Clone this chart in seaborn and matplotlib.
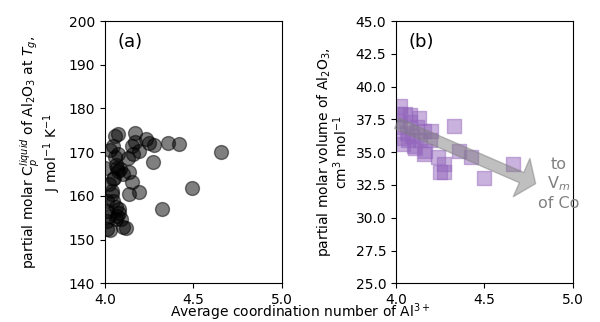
import numpy as np
import pandas as pd
import matplotlib
matplotlib.use("Agg")
import matplotlib.pyplot as plt
import seaborn as sns

# panel (a): heat capacity vs Al coordination
cn_cp = [4.076, 4.057, 4.17, 4.047, 4.152, 4.17, 4.23, 4.247, 4.28, 4.356, 4.42,
         4.657, 4.19, 4.16, 4.076, 4.057, 4.27, 4.07, 4.085, 4.10, 4.137, 4.05,
         4.15, 4.047, 4.02, 4.038, 4.137, 4.19, 4.495, 4.04, 4.013, 4.047, 4.06,
         4.08, 4.324, 4.013, 4.023, 4.07, 4.06, 4.09, 4.013, 4.1, 4.118, 4.028,
         4.013, 4.0, 4.065, 4.075, 4.08, 4.03, 4.13]
cp_al2o3 = [174.1, 173.7, 174.5, 171.5, 171.5, 172.3, 173.0, 172.2, 171.6, 172.0, 171.8,
            170.0, 170.3, 169.6, 169.6, 168.8, 167.7, 166.5, 166.1, 165.0, 165.4, 164.2,
            163.1, 163.9, 162.7, 161.2, 160.4, 160.8, 161.8, 160.4, 158.9, 158.9, 157.4,
            157.0, 157.0, 156.6, 155.5, 155.5, 154.7, 154.7, 154.3, 152.8, 152.7, 152.1,
            152.4, 166.5, 167.0, 165.8, 156.2, 170.5, 168.6]

# panel (b): partial molar volume vs Al coordination
cn_v = [4.023, 4.05, 4.08, 4.13, 4.33, 4.2, 4.156, 4.02, 4.04, 4.07, 4.137,
        4.194, 4.04, 4.1, 4.156, 4.166, 4.24, 4.27, 4.25, 4.27, 4.356, 4.423,
        4.118, 4.08, 4.023, 4.66, 4.5, 4.01, 4.06, 4.09, 4.11]
v_al2o3 = [38.5, 37.9, 37.8, 37.6, 37.0, 36.6, 36.6, 36.9, 36.1, 35.9, 35.9,
           35.9, 35.6, 35.5, 34.9, 35.1, 34.6, 34.1, 33.5, 33.5, 35.1, 34.6,
           36.9, 37.3, 37.9, 34.1, 33.0, 37.4, 36.5, 36.2, 35.3]

df_a = pd.DataFrame(dict(cn=cn_cp, cp=cp_al2o3))
df_b = pd.DataFrame(dict(cn=cn_v, v=v_al2o3))

fig = plt.figure(figsize=(6.0, 3.22), dpi=100)
ax1 = fig.add_axes([0.175, 0.120, 0.2945, 0.8146])
ax2 = fig.add_axes([0.660, 0.120, 0.2945, 0.8146])

# left panel
sns.scatterplot(data=df_a, x="cn", y="cp", ax=ax1, marker="o", s=100,
                color="k", alpha=0.5, edgecolor="k", linewidth=1)
ax1.set_xlim(4.0, 5.0)
ax1.set_ylim(140, 200)
ax1.set_xticks([4.0, 4.5, 5.0])
ax1.set_xlabel("")
ax1.set_ylabel("partial molar C$_p^{liquid}$ of Al$_2$O$_3$ at $T_g$,\nJ mol$^{-1}$ K$^{-1}$",
               linespacing=0.95)
ax1.text(0.07, 0.955, "(a)", transform=ax1.transAxes, fontsize=13, va="top")

# right panel
sns.scatterplot(data=df_b, x="cn", y="v", ax=ax2, marker="s", s=100,
                color="C4", alpha=0.5, edgecolor="C4", linewidth=1)
ax2.set_xlim(4.0, 5.0)
ax2.set_ylim(25, 45)
ax2.set_xticks([4.0, 4.5, 5.0])
ax2.set_xlabel("")
ax2.set_ylabel("partial molar volume of Al$_2$O$_3$,\ncm$^3$ mol$^{-1}$", linespacing=0.9)
ax2.text(0.07, 0.955, "(b)", transform=ax2.transAxes, fontsize=13, va="top")

# arrow pointing towards the molar volume of corundum
ax2.annotate("", xy=(4.79, 32.6), xytext=(4.005, 37.2),
             arrowprops=dict(arrowstyle="simple,head_length=1.1,head_width=3.0,tail_width=0.8",
                             color="grey", alpha=0.5, shrinkA=0, shrinkB=0))
ax2.text(4.92, 32.6, "to\nV$_m$\nof Co", color="grey", fontsize=11.5,
         ha="center", va="center")

fig.text(0.5, 0.03, "Average coordination number of Al$^{3+}$", ha="center", va="center",
         fontsize=10)

fig.savefig("out.png", dpi=100)
